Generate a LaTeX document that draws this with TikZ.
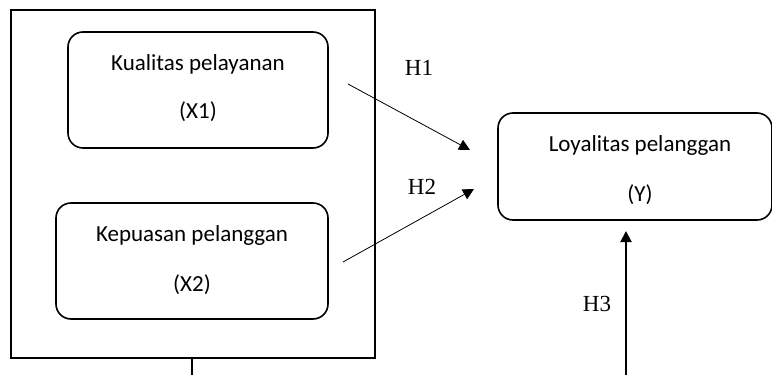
\documentclass[tikz,border=0pt]{standalone}
\usepackage{fontspec}
\setmainfont{Carlito}
\newfontfamily\timesfont{Liberation Serif}
\usetikzlibrary{arrows.meta}
\begin{document}
\begin{tikzpicture}[x=1pt,y=-1pt,
  varbox/.style={draw, line width=1.6pt, rounded corners=15pt, inner sep=0pt},
  boxtext/.style={font=\fontsize{23}{27}\selectfont, inner sep=0pt},
  hlabel/.style={font=\timesfont\fontsize{23}{27}\selectfont, inner sep=0pt},
  thinarrow/.style={line width=0.8pt, -{Triangle[length=11pt,width=11pt]}},
  thickarrow/.style={line width=2pt, -{Triangle[length=11pt,width=11pt]}}]
\useasboundingbox (0,0) rectangle (772,375);
% outer frame
\node[draw, line width=2pt, minimum width=364pt, minimum height=348pt, inner sep=0pt] (frame) at (193,184) {};
% boxes
\node[varbox, minimum width=260pt, minimum height=116pt] (x1) at (198,90) {};
\node[boxtext] (x1a) at (198,64) {Kualitas pelayanan};
\node[boxtext] (x1b) at (198,112) {(X1)};
\node[varbox, minimum width=272pt, minimum height=116pt] (x2) at (192,261) {};
\node[boxtext] (x2a) at (192,235) {Kepuasan pelanggan};
\node[boxtext] (x2b) at (192,285) {(X2)};
\node[varbox, minimum width=274pt, minimum height=107pt] (y) at (635,166.5) {};
\node[boxtext] (ya) at (640,145) {Loyalitas pelanggan};
\node[boxtext] (yb) at (640,195) {(Y)};
% labels
\node[hlabel] (h1) at (419,68) {H1};
\node[hlabel] (h2) at (422,187) {H2};
\node[hlabel] (h3) at (597,304) {H3};
% coordinates
\coordinate (s1) at (348,84);
\coordinate (t1) at (470,150);
\coordinate (s2) at (343,262);
\coordinate (t2) at (474,189);
\coordinate (s3) at (626,376);
\coordinate (t3) at (626,231);
\coordinate (stubtop) at (192,358);
\coordinate (stubbot) at (192,376);
% arrows
\draw[thinarrow] (s1) -- (t1);
\draw[thinarrow] (s2) -- (t2);
\draw[thickarrow] (s3) -- (t3);
\draw[line width=1.6pt] (stubtop) -- (stubbot);
\end{tikzpicture}
\end{document}
